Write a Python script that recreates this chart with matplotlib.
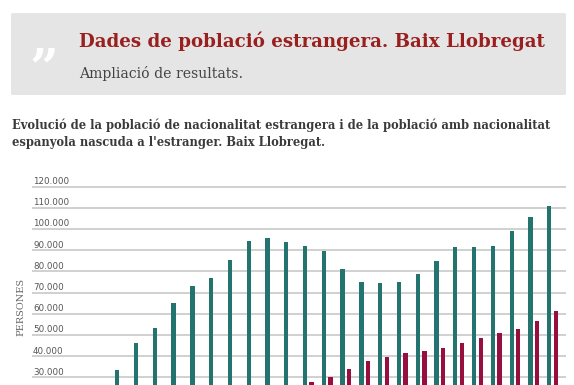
import numpy as np
import matplotlib
matplotlib.use("Agg")
import matplotlib.pyplot as plt
from matplotlib import font_manager
from matplotlib.patches import FancyBboxPatch

# data (anys del padró, valors llegits del gràfic)
years = list(range(1998, 2026))
estrangera = [7000, 9500, 14000, 22000, 33500, 46100, 53300, 65100, 73200, 76900,
              85400, 94500, 95800, 93900, 92200, 89700, 81200, 75000, 74400, 75000,
              78800, 85000, 91600, 91600, 92000, 99100, 105600, 110900]
espanyola_nascuda_fora = [15000, 15500, 16000, 16500, 17000, 17800, 18500, 19300, 20100, 21000,
                          22000, 23200, 24500, 25800, 27900, 30000, 33900, 37900, 39500, 41500,
                          42500, 43900, 46300, 48500, 50700, 52900, 56600, 61200]
yticks = [30000, 40000, 50000, 60000, 70000, 80000, 90000, 100000, 110000, 120000]
ytick_labels = ["30.000", "40.000", "50.000", "60.000", "70.000", "80.000",
                "90.000", "100.000", "110.000", "120.000"]

W, H = 574, 385
fig = plt.figure(figsize=(W / 100, H / 100), dpi=100)
renderer = fig.canvas.get_renderer()

# narrower serif for the long description if the condensed cut is there
has_cond = any(f.name == "DejaVu Serif" and f.stretch == "condensed"
               for f in font_manager.fontManager.ttflist)
desc_font = dict(family="DejaVu Serif", fontstretch="condensed") if has_cond \
    else dict(family="Liberation Serif")


def fit_text(x, y, s, width_px, size0=10, **kw):
    # place text at pixel coords (from top-left) and scale font to a target width
    t = fig.text(x / W, 1 - y / H, s, fontsize=size0, **kw)
    w = t.get_window_extent(renderer).width
    t.set_fontsize(size0 * width_px / w)
    return t


# header box
box = FancyBboxPatch((11 / W, 1 - 95 / H), 555 / W, 82 / H,
                     boxstyle="round,pad=0,rounding_size=0.004",
                     transform=fig.transFigure, fc="#e5e5e5", ec="none")
fig.patches.append(box)
fig.text(44 / W, 1 - 84 / H, "\u201d", fontsize=36, family="DejaVu Serif",
         fontweight="bold", color="white", ha="center", va="baseline")
fit_text(79, 47, "Dades de població estrangera. Baix Llobregat", 467,
         family="DejaVu Serif", fontweight="bold", color="#9a1f1f", va="baseline")
fit_text(79, 78, "Ampliació de resultats.", 164,
         family="DejaVu Serif", color="#444444", va="baseline")

t1 = fit_text(12, 129, "Evolució de la població de nacionalitat estrangera i de la població amb nacionalitat",
              536, fontweight="bold", color="#3a3a3a", va="baseline", **desc_font)
fig.text(12 / W, 1 - 146 / H, "espanyola nascuda a l'estranger. Baix Llobregat.",
         fontsize=t1.get_fontsize(), fontweight="bold",
         color="#3a3a3a", va="baseline", **desc_font)

# chart area (bottom part is cut off like in the reference)
y0_px, ytop_px = 440.8, 176.1
ax = fig.add_axes([32 / W, 1 - y0_px / H, 533.5 / W, (y0_px - ytop_px) / H])
x = np.arange(len(years))
ax.bar(x - 0.175, estrangera, width=0.23, color="#23746f", zorder=3)
ax.bar(x + 0.175, espanyola_nascuda_fora, width=0.23, color="#970f3e", zorder=3)
ax.set_xlim(-0.713, 27.69)
ax.set_ylim(0, 125000)
for v, lab in zip(yticks, ytick_labels):
    ax.axhline(v, color="#cdcdcd", lw=1.3, zorder=1)
    ax.text(0.002, v + 1200, lab, transform=ax.get_yaxis_transform(),
            fontsize=6.3, family="DejaVu Sans", color="#555555", va="baseline", zorder=2)
ax.set_xticks([])
ax.set_yticks([])
for sp in ax.spines.values():
    sp.set_visible(False)

fig.text(21 / W, 1 - 307 / H, "PERSONES", rotation=90, fontsize=7,
         family="DejaVu Serif", color="#666666", ha="center", va="center")

fig.savefig("out.png", dpi=100)
